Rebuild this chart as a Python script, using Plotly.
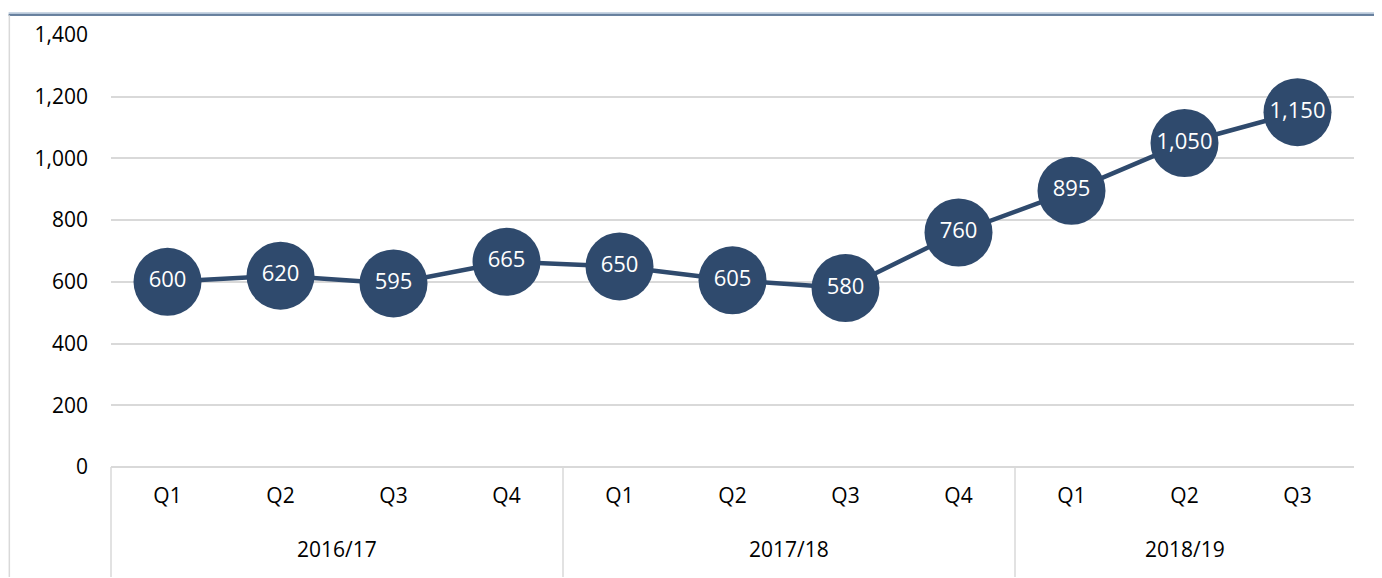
import plotly.graph_objects as go

quarters = ["Q1", "Q2", "Q3", "Q4", "Q1", "Q2", "Q3", "Q4", "Q1", "Q2", "Q3"]
years = ["2016/17", "2017/18", "2018/19"]
year_sizes = [4, 4, 3]
values = [600, 620, 595, 665, 650, 605, 580, 760, 895, 1050, 1150]
y_ticks = [0, 200, 400, 600, 800, 1000, 1200, 1400]

# page body has an 8px margin, so the figure starts at (8, 8)
W, H = 1374, 570
ML, MR, MT, MB = 102.5, 27.5, 23, 111
n = len(values)
xs = list(range(n))
navy = "#2F4A6D"
font = "Open Sans"

fig = go.Figure()
fig.add_trace(go.Scatter(
    x=xs, y=values, mode="lines+markers+text",
    line=dict(color=navy, width=4.5),
    marker=dict(size=68, color=navy),
    text=[f"{v:,}" for v in values],
    textposition="middle center",
    textfont=dict(family=font, size=22, color="white"),
    hoverinfo="skip", cliponaxis=False,
))

plot_w = W - ML - MR
plot_h = H - MT - MB
shapes = []
bounds = [0]
for s in year_sizes:
    bounds.append(bounds[-1] + s)
for b in bounds[:-1]:
    shapes.append(dict(type="line", xref="paper", yref="paper",
                       x0=b / n, x1=b / n, y0=0, y1=-MB / plot_h,
                       line=dict(color="#D9D9D9", width=1.5)))
# top border (double)
shapes.append(dict(type="line", xref="paper", yref="paper",
                   x0=-ML / plot_w, x1=1 + MR / plot_w,
                   y0=1 + (MT - 1) / plot_h, y1=1 + (MT - 1) / plot_h,
                   line=dict(color="#B8C8DA", width=2)))
shapes.append(dict(type="line", xref="paper", yref="paper",
                   x0=-ML / plot_w, x1=1 + MR / plot_w,
                   y0=1 + (MT - 2.8) / plot_h, y1=1 + (MT - 2.8) / plot_h,
                   line=dict(color="#3A5A80", width=1.5)))
# left border
shapes.append(dict(type="line", xref="paper", yref="paper",
                   x0=-(ML - 0.75) / plot_w, x1=-(ML - 0.75) / plot_w,
                   y0=-MB / plot_h, y1=1 + (MT - 3) / plot_h,
                   line=dict(color="#D9D9D9", width=1.5)))

annotations = []
for i, yr in enumerate(years):
    c = (bounds[i] + bounds[i + 1]) / 2 / n
    annotations.append(dict(text=yr, x=c, y=-(550 - 467) / plot_h, xref="paper", yref="paper",
                            showarrow=False, font=dict(family=font, size=21, color="black"),
                            xanchor="center", yanchor="middle"))

fig.update_layout(
    width=W, height=H,
    margin=dict(l=ML, r=MR, t=MT, b=MB, pad=0),
    paper_bgcolor="white", plot_bgcolor="white",
    showlegend=False,
    shapes=shapes, annotations=annotations,
    font=dict(family=font, size=21, color="black"),
    xaxis=dict(range=[-0.5, n - 0.5], tickvals=xs, ticktext=quarters,
               showgrid=False, zeroline=False, showline=False,
               ticks="", ticklabelstandoff=14,
               tickfont=dict(family=font, size=21, color="black")),
    yaxis=dict(range=[0, 1400], tickvals=y_ticks,
               ticktext=[f"{v:,}" for v in y_ticks],
               showgrid=True, gridcolor="#D9D9D9", gridwidth=1.5,
               zeroline=True, zerolinecolor="#D9D9D9", zerolinewidth=1.5,
               showline=False, ticks="", ticklabelstandoff=22,
               tickfont=dict(family=font, size=21, color="black")),
)

fig.write_html("out.html")
